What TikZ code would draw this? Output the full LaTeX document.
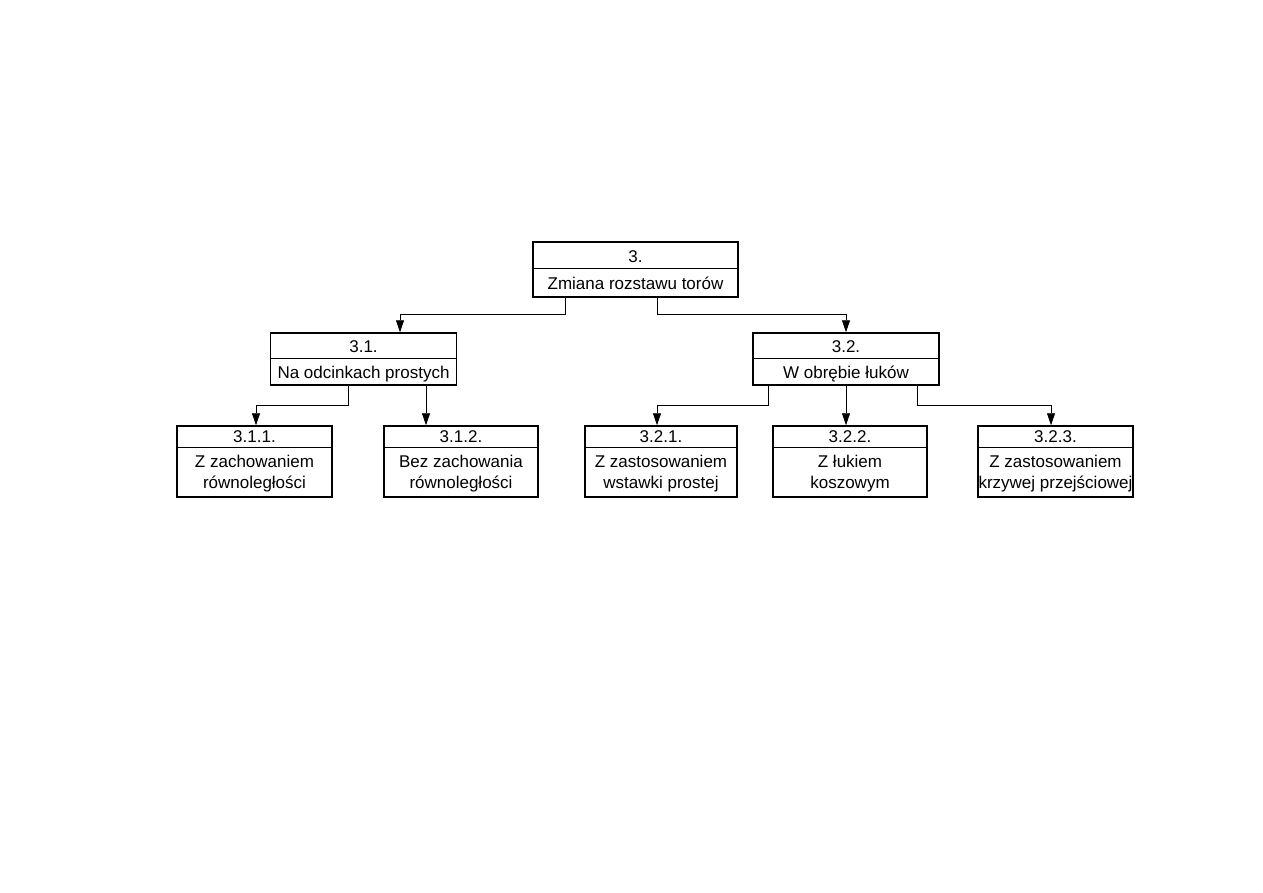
\documentclass[tikz,border=0pt]{standalone}
\usepackage{fontspec}
\setmainfont{Liberation Sans}
\usetikzlibrary{arrows.meta}

\begin{document}
\begin{tikzpicture}[
  x=1pt,y=-1pt,
  box/.style={draw=black,line width=1.5pt,inner sep=0pt},
  rootbox/.style={box,line width=2.8pt},
  divider/.style={draw=black,line width=1pt},
  txt/.style={font=\fontsize{17}{21}\selectfont,inner sep=0pt,anchor=base},
  twoline/.style={font=\fontsize{17}{21}\selectfont,inner sep=0pt,align=center},
  conn/.style={draw=black,line width=0.8pt},
  arr/.style={conn,-{Triangle[length=12pt,width=8pt]}},
]
\useasboundingbox (0,0) rectangle (1263,893);

% level 0
\node[rootbox,minimum width=205pt,minimum height=55pt] (root) at (635.5,269.5) {};
\draw[divider] (root.west |- 0,269) -- (root.east |- 0,269);
\node[txt] (rooth) at (635.5,262) {3.};
\node[txt] (roott) at (635.5,290) {Zmiana rozstawu torów};

% level 1
\node[box,minimum width=186pt,minimum height=52pt] (n31) at (363.5,359) {};
\draw[divider] (n31.west |- 0,358) -- (n31.east |- 0,358);
\node[txt] (n31h) at (363.5,352) {3.1.};
\node[txt] (n31t) at (363.5,378) {Na odcinkach prostych};

\node[box,minimum width=186pt,minimum height=52pt] (n32) at (846,359) {};
\draw[divider] (n32.west |- 0,358) -- (n32.east |- 0,358);
\node[txt] (n32h) at (846,352) {3.2.};
\node[txt] (n32t) at (846,378) {W obrębie łuków};

% level 2
\node[box,minimum width=155pt,minimum height=71pt] (n311) at (254.5,461.5) {};
\draw[divider] (n311.west |- 0,447) -- (n311.east |- 0,447);
\node[txt] (n311h) at (254.5,442) {3.1.1.};
\node[twoline] (n311t) at (254.5,474) {Z zachowaniem\\równoległości};

\node[box,minimum width=154pt,minimum height=71pt] (n312) at (461,461.5) {};
\draw[divider] (n312.west |- 0,447) -- (n312.east |- 0,447);
\node[txt] (n312h) at (461,442) {3.1.2.};
\node[twoline] (n312t) at (461,474) {Bez zachowania\\równoległości};

\node[box,minimum width=152pt,minimum height=71pt] (n321) at (661,461.5) {};
\draw[divider] (n321.west |- 0,447) -- (n321.east |- 0,447);
\node[txt] (n321h) at (661,442) {3.2.1.};
\node[twoline] (n321t) at (661,474) {Z zastosowaniem\\wstawki prostej};

\node[box,minimum width=154pt,minimum height=71pt] (n322) at (850,461.5) {};
\draw[divider] (n322.west |- 0,447) -- (n322.east |- 0,447);
\node[txt] (n322h) at (850,442) {3.2.2.};
\node[twoline] (n322t) at (850,474) {Z łukiem\\koszowym};

\node[box,minimum width=155pt,minimum height=71pt] (n323) at (1055.5,461.5) {};
\draw[divider] (n323.west |- 0,447) -- (n323.east |- 0,447);
\node[txt] (n323h) at (1055.5,442) {3.2.3.};
\node[twoline] (n323t) at (1055.5,474) {Z zastosowaniem\\krzywej przejściowej};

% connectors
\draw[arr] ([xshift=-70.5pt]root.south) -- ++(0,16) -| ([xshift=36.5pt]n31.north);
\draw[arr] ([xshift=21.5pt]root.south) -- ++(0,16) -| (n32.north);
\draw[arr] ([xshift=-15.5pt]n31.south) -- ++(0,20) -| ([xshift=1.5pt]n311.north);
\draw[arr] ([xshift=62.5pt]n31.south) -- ([xshift=-35pt]n312.north);
\draw[arr] ([xshift=-78pt]n32.south) -- ++(0,20) -| ([xshift=-4pt]n321.north);
\draw[arr] (n32.south) -- ([xshift=-4pt]n322.north);
\draw[arr] ([xshift=71pt]n32.south) -- ++(0,20) -| ([xshift=-4.5pt]n323.north);
\end{tikzpicture}
\end{document}
